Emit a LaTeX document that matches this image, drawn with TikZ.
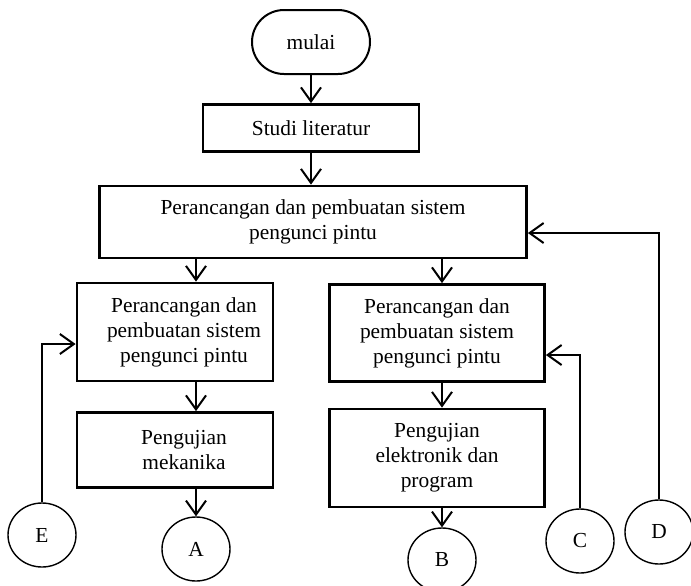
\documentclass[tikz,border=0pt]{standalone}
\usepackage{fontspec}
\setmainfont{Liberation Serif}
\usetikzlibrary{shapes.geometric,arrows.meta,positioning}
\tikzstyle{terminal} = [draw,line width=1pt,rectangle,rounded corners=16pt,minimum width=59pt,minimum height=32pt]
\tikzstyle{kotak} = [draw,line width=1.4pt,rectangle,align=center,inner sep=0]
\tikzstyle{konektor} = [draw,line width=0.7pt,ellipse,minimum width=34pt,minimum height=32pt,inner sep=0]
\tikzstyle{panah} = [-{Straight Barb[length=7pt,width=10pt]},line width=1pt]

\begin{document}
\begin{tikzpicture}[x=0.5pt,y=-0.5pt,font=\fontsize{10.7}{12.5}\selectfont]
      \useasboundingbox (0,0) rectangle (691,585);
      \node[terminal] (mulai) at (311,42) {mulai};
      \node[kotak,minimum width=108pt,minimum height=23.5pt] (studi) at (311,128) {Studi literatur};
      \node[kotak,minimum width=213.5pt,minimum height=36pt] (rancang) at (313,222) {Perancangan dan pembuatan sistem\\pengunci pintu};
      \node[kotak,minimum width=98pt,minimum height=49pt] (kiri1) at (175,332) {\hspace*{9pt}Perancangan dan\\\hspace*{9pt}pembuatan sistem\\\hspace*{9pt}pengunci pintu};
      \node[kotak,minimum width=98pt,minimum height=37.5pt] (kiri2) at (175,450) {\hspace*{9pt}Pengujian\\\hspace*{9pt}mekanika};
      \node[kotak,minimum width=107.5pt,minimum height=48.5pt] (kanan1) at (437,333) {Perancangan dan\\pembuatan sistem\\pengunci pintu};
      \node[kotak,minimum width=107.5pt,minimum height=49pt] (kanan2) at (437,458) {Pengujian\\elektronik dan\\program};
      \node[konektor] (A) at (196,549) {A};
      \node[konektor] (B) at (442,560) {B};
      \node[konektor] (C) at (580,541) {C};
      \node[konektor] (D) at (659,532) {D};
      \node[konektor] (E) at (42,535) {E};
      \draw[panah] (mulai.south) -- (studi.north);
      \draw[panah] (studi.south) -- (studi.south |- rancang.north);
      \draw[panah] (rancang.south -| A) -- (kiri1.north -| A);
      \draw[panah] (kiri1.south -| A) -- (kiri2.north -| A);
      \draw[panah] (kiri2.south -| A) -- (A.north);
      \draw[panah] (rancang.south -| B) -- (kanan1.north -| B);
      \draw[panah] (kanan1.south -| B) -- (kanan2.north -| B);
      \draw[panah] (kanan2.south -| B) -- (B.north);
      \draw[panah] (E.north) |- ([yshift=-6pt]kiri1.west);
      \draw[panah] (C.north) |- ([yshift=-11pt]kanan1.east);
      \draw[panah] (D.north) |- ([yshift=-5.5pt]rancang.east);
\end{tikzpicture}
\end{document}
